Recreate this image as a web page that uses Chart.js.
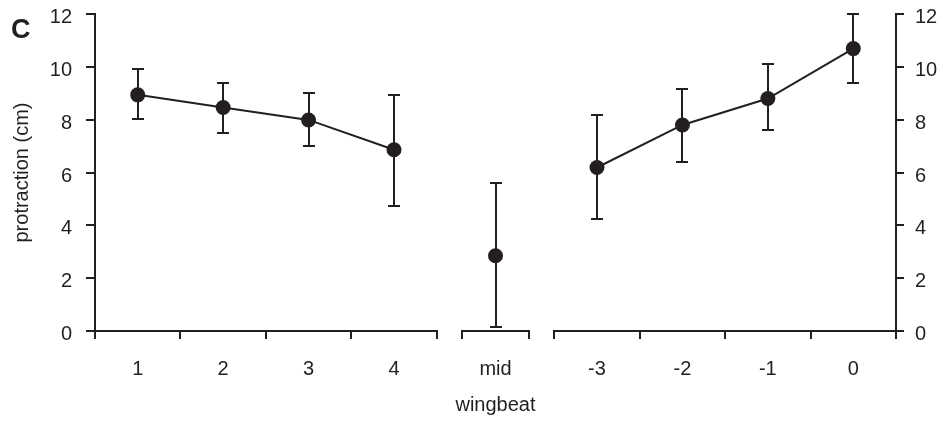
<!DOCTYPE html>
<html>
<head>
<meta charset="utf-8">
<script src="https://cdn.jsdelivr.net/npm/chart.js@4/dist/chart.umd.min.js"></script>
<style>
  html, body { margin: 0; padding: 0; background: #fff; }
  canvas { display: block; }
</style>
</head>
<body>
<canvas id="myChart" width="943" height="423"></canvas>
<script>
'use strict';

// data
const xLabels = ['1', '2', '3', '4', 'mid', '-3', '-2', '-1', '0'];
const groupOf = [0, 0, 0, 0, 1, 2, 2, 2, 2];
const means = [8.94, 8.46, 7.99, 6.86, 2.85, 6.19, 7.80, 8.80, 10.69];
const upper = [9.91, 9.39, 9.00, 8.95, 5.62, 8.16, 9.16, 10.11, 12.00];
const lower = [8.02, 7.51, 7.01, 4.74, 0.16, 4.24, 6.41, 7.59, 9.40];
const yTicks = [0, 2, 4, 6, 8, 10, 12];

const ink = '#231f20';
const font = "'Liberation Sans', Arial, sans-serif";

// broken x axis: each category is one slot, 'mid' a narrower one, gaps between groups
const slotWidth = g => (g === 1 ? 0.776 : 1);
const gap = 0.3;
const catPos = [];
const segments = [];
let cursor = 0;
groupOf.forEach((g, i) => {
	if (i > 0 && g !== groupOf[i - 1]) cursor += gap;
	if (i === 0 || g !== groupOf[i - 1]) segments.push({ start: cursor, edges: [cursor] });
	const w = slotWidth(g);
	catPos.push(cursor + w / 2);
	cursor += w;
	segments[segments.length - 1].edges.push(cursor);
});
const xMax = cursor;

// one line per group so the lines break between groups
const datasets = [0, 1, 2].map(g => ({
	data: means
		.map((v, i) => ({ x: catPos[i], y: v, g: groupOf[i] }))
		.filter(p => p.g === g),
	borderColor: ink,
	borderWidth: 2,
	pointRadius: 7.5,
	pointBackgroundColor: ink,
	pointBorderWidth: 0,
	pointHoverRadius: 7.5,
	showLine: true,
	tension: 0,
	clip: false,
}));

const errorBars = {
	id: 'errorBars',
	beforeDatasetsDraw(chart) {
		const { ctx, scales: { x, y } } = chart;
		ctx.save();
		ctx.strokeStyle = ink;
		ctx.lineWidth = 2;
		catPos.forEach((p, i) => {
			const px = Math.round(x.getPixelForValue(p));
			const yu = Math.round(y.getPixelForValue(upper[i]));
			const yl = Math.round(y.getPixelForValue(lower[i]));
			ctx.beginPath();
			ctx.moveTo(px, yu);
			ctx.lineTo(px, yl);
			ctx.moveTo(px - 6, yu);
			ctx.lineTo(px + 6, yu);
			ctx.moveTo(px - 6, yl);
			ctx.lineTo(px + 6, yl);
			ctx.stroke();
		});
		ctx.restore();
	},
};

const brokenAxis = {
	id: 'brokenAxis',
	afterDraw(chart) {
		const { ctx, chartArea, scales: { x } } = chart;
		const yb = Math.round(chartArea.bottom);
		ctx.save();
		ctx.strokeStyle = ink;
		ctx.lineWidth = 2;
		segments.forEach(seg => {
			const x0 = Math.round(x.getPixelForValue(seg.edges[0]));
			const x1 = Math.round(x.getPixelForValue(seg.edges[seg.edges.length - 1]));
			ctx.beginPath();
			ctx.moveTo(x0 - 1, yb);
			ctx.lineTo(x1 + 1, yb);
			seg.edges.forEach(e => {
				const px = Math.round(x.getPixelForValue(e));
				ctx.moveTo(px, yb);
				ctx.lineTo(px, yb + 8);
			});
			ctx.stroke();
		});
		// panel letter
		ctx.fillStyle = ink;
		ctx.font = 'bold 27px ' + font;
		ctx.textBaseline = 'alphabetic';
		ctx.fillText('C', 11, 38);
		ctx.restore();
	},
};

const tickFont = { family: font, size: 20 };

const fitY = w => s => {
	s.width = w;
	s.paddingTop = 0;
	s.paddingBottom = 0;
};

const ctx = document.getElementById('myChart').getContext('2d');

const myChart = new Chart(ctx, {
	type: 'scatter',
	data: { datasets },
	options: {
		responsive: false,
		animation: false,
		devicePixelRatio: 1,
		layout: { padding: { top: 14, left: 0, right: 0, bottom: 0 } },
		plugins: {
			legend: { display: false },
			tooltip: { enabled: false },
		},
		scales: {
			x: {
				type: 'linear',
				min: 0,
				max: xMax,
				afterFit: s => {
					s.height = 92;
					s.paddingLeft = 0;
					s.paddingRight = 0;
				},
				afterBuildTicks: s => { s.ticks = catPos.map(v => ({ value: v })); },
				grid: { display: false, drawTicks: false },
				border: { display: false },
				ticks: {
					callback: (v, i) => xLabels[i],
					autoSkip: false,
					maxRotation: 0,
					padding: 26.5,
					color: ink,
					font: tickFont,
				},
				title: {
					display: true,
					text: 'wingbeat',
					color: ink,
					font: tickFont,
					padding: { top: 0, bottom: 6 },
				},
			},
			y: {
				position: 'left',
				min: 0,
				max: 12,
				afterFit: fitY(95),
				afterBuildTicks: s => { s.ticks = yTicks.map(v => ({ value: v })); },
				grid: {
					drawOnChartArea: false,
					color: ink,
					lineWidth: 2,
					tickLength: 9,
				},
				border: { display: true, color: ink, width: 2 },
				ticks: { padding: 14, labelOffset: 3.5, color: ink, font: tickFont },
				title: {
					display: true,
					text: 'protraction (cm)',
					color: ink,
					font: tickFont,
					padding: { top: 10.5, bottom: 0 },
				},
			},
			y2: {
				position: 'right',
				min: 0,
				max: 12,
				afterFit: fitY(47),
				afterBuildTicks: s => { s.ticks = yTicks.map(v => ({ value: v })); },
				grid: {
					drawOnChartArea: false,
					color: ink,
					lineWidth: 2,
					tickLength: 8,
				},
				border: { display: true, color: ink, width: 2 },
				ticks: { padding: 11, labelOffset: 3.5, color: ink, font: tickFont },
			},
		},
	},
	plugins: [errorBars, brokenAxis],
});
</script>
</body>
</html>
